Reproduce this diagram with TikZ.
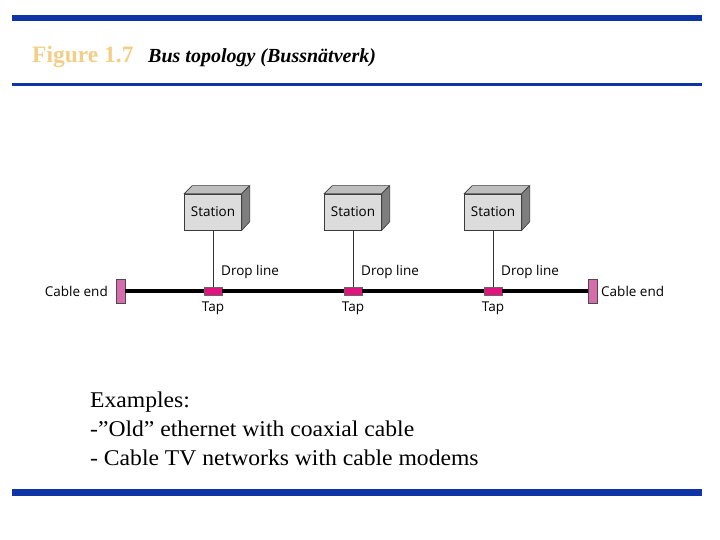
\documentclass[tikz,border=0pt]{standalone}
\usepackage{fontspec}
\setmainfont{Liberation Serif}
\newfontfamily\labelfont{Open Sans}
\definecolor{barblue}{HTML}{0F34A6}
\definecolor{titleyel}{HTML}{F3CE86}
\definecolor{tapcol}{HTML}{E0147C}
\definecolor{endcol}{HTML}{D66BAE}
\definecolor{frontgray}{HTML}{DCDCDC}
\definecolor{topgray}{HTML}{BEBEBE}
\definecolor{sidegray}{HTML}{7E7E7E}
\definecolor{edgegray}{HTML}{3C3C3C}
\tikzset{
  station/.style={draw=edgegray, line width=0.6pt, fill=frontgray, minimum width=57pt, minimum height=36pt, inner sep=0pt, text depth=-1.5pt, font=\labelfont\fontsize{13.5}{15}\selectfont},
  tapbox/.style={draw=black!60, line width=0.5pt, fill=tapcol, minimum width=18pt, minimum height=8pt, inner sep=0pt},
  cableend/.style={draw=black!70, line width=0.6pt, fill=endcol, minimum width=9pt, minimum height=24pt, inner sep=0pt},
  busline/.style={line width=4.5pt, black},
  dropline/.style={line width=0.8pt, black!80},
  lbl/.style={font=\labelfont\fontsize{13.5}{15}\selectfont, inner sep=0pt},
  exline/.style={font=\fontsize{22.5}{26}\selectfont, inner sep=0pt, anchor=base west}
}
\begin{document}
\begin{tikzpicture}[x=1pt,y=-1pt]
\useasboundingbox (0,0) rectangle (720,540);
% header bars
\fill[barblue] (12,15) rectangle (702,21.5);
\fill[barblue] (12,83) rectangle (702,86);
\fill[barblue] (12,489) rectangle (702,495.5);
% title
\node[anchor=base west, inner sep=0pt, text=titleyel, font=\bfseries\fontsize{23.5}{26}\selectfont] (fig) at (32,63) {Figure 1.7};
\node[anchor=base west, inner sep=0pt, font=\bfseries\itshape\fontsize{20}{22}\selectfont] (ttl) at (148,63) {Bus topology (Bussnätverk)};
% stations
\foreach \i/\x in {1/213,2/353,3/493}{
  \node[station] (s\i) at (\x,212) {Station};
  \filldraw[fill=topgray, draw=edgegray, line width=0.6pt] (s\i.north west) -- ++(8,-8) -- ++(57,0) -- (s\i.north east) -- cycle;
  \filldraw[fill=sidegray, draw=edgegray, line width=0.6pt] (s\i.north east) -- ++(8,-8) -- ++(0,36) -- (s\i.south east) -- cycle;
  \node[tapbox] (t\i) at (\x,291) {};
  \draw[dropline] (s\i.south) -- (t\i.north);
  \node[lbl, anchor=west] (d\i) at (\x+8,272) {Drop line};
  \node[lbl, anchor=north] (tl\i) at (\x,302) {Tap};
}
% cable ends
\node[cableend] (e1) at (120.5,291) {};
\node[cableend] (e2) at (593,291) {};
\node[lbl, anchor=east] (el1) at (108,291.5) {Cable end};
\node[lbl, anchor=west] (el2) at (601,291.5) {Cable end};
% bus segments
\draw[busline] (e1.east) -- (t1.west);
\draw[busline] (t1.east) -- (t2.west);
\draw[busline] (t2.east) -- (t3.west);
\draw[busline] (t3.east) -- (e2.west);
% examples
\node[exline] (x1) at (90,407) {\scalebox{1.05}[1]{Examples:}};
\node[exline] (x2) at (90,436) {\scalebox{1.05}[1]{-”Old” ethernet with coaxial cable}};
\node[exline] (x3) at (90,465) {\scalebox{1.05}[1]{- Cable TV networks with cable modems}};
\end{tikzpicture}
\end{document}
